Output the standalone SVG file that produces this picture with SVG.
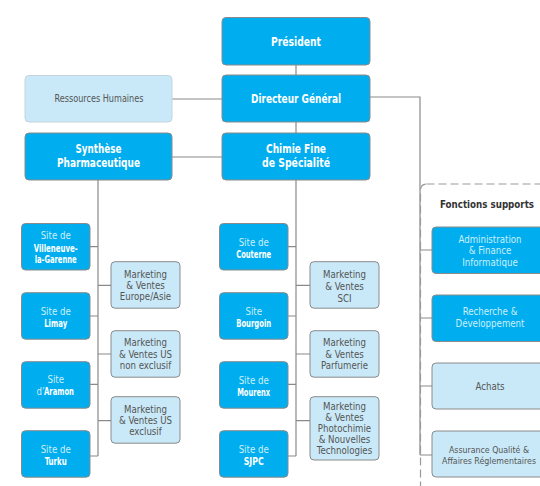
<svg xmlns="http://www.w3.org/2000/svg" width="540" height="486" viewBox="0 0 540 486">
<style>
text{font-family:"Liberation Sans Narrow","DejaVu Sans Condensed","Liberation Sans",sans-serif;text-anchor:middle}
.b{fill:#00aeef;stroke:#8a8a8a;stroke-width:1}
.l{fill:#c9e9f8;stroke:#8a8a8a;stroke-width:1}
.rh{fill:#c9e9f8;stroke:#c4d4dc;stroke-width:1}
.h{font-size:12.5px;font-weight:bold;fill:#ffffff}
.g{font-size:9.6px;fill:#555555}
.s{font-size:9.6px;fill:#cdeefb}
.sb{font-size:10px;font-weight:bold;fill:#ffffff}
.c{fill:none;stroke:#8a8a8a;stroke-width:1.2}
.ft{font-size:10px;font-weight:bold;fill:#333333}
</style>
<rect width="540" height="486" fill="#ffffff"/>
<g id="connectors">
<path class="c" d="M296 65V75M296 122V133M172 99H222M172 157H222M370 97H420V455M420 250H432M420 318H432M420 386H432M420 455H432"/>
<path class="c" d="M98 180V456M90 246.7H98M90 316H98M90 384.3H98M90 456H98M98 285.3H111M98 354H111M98 420.7H111"/>
<path class="c" d="M296 180V456M288 246.7H296M288 316H296M288 384.3H296M288 456H296M296 285.3H310M296 354H310M296 420.7H310"/>
</g>
<g id="fonctions-supports">
<rect x="420.5" y="184" width="140" height="320" rx="6" fill="none" stroke="#999999" stroke-width="1.2" stroke-dasharray="8 4"/>
<text class="ft" x="487" y="208" textLength="94" lengthAdjust="spacingAndGlyphs">Fonctions supports</text>
</g>
<g id="president"><rect class="b" x="222" y="17.5" width="148" height="47.5" rx="4"/><text class="h" x="296" y="45.5" textLength="50" lengthAdjust="spacingAndGlyphs">Président</text></g>
<g id="directeur"><rect class="b" x="222" y="75" width="148" height="47" rx="4"/><text class="h" x="296" y="103" textLength="90" lengthAdjust="spacingAndGlyphs">Directeur Général</text></g>
<g id="rh"><rect class="rh" x="25" y="75.5" width="147" height="46.5" rx="4"/><text class="g" x="99" y="102" textLength="89" lengthAdjust="spacingAndGlyphs">Ressources Humaines</text></g>
<g id="synthese"><rect class="b" x="25" y="133" width="147" height="47" rx="4"/><text class="h" x="98.5" y="152.5" textLength="46" lengthAdjust="spacingAndGlyphs">Synthèse</text><text class="h" x="98.5" y="167" textLength="83" lengthAdjust="spacingAndGlyphs">Pharmaceutique</text></g>
<g id="chimie"><rect class="b" x="222" y="133" width="148" height="47" rx="4"/><text class="h" x="296" y="152.5" textLength="60" lengthAdjust="spacingAndGlyphs">Chimie Fine</text><text class="h" x="296" y="167" textLength="68" lengthAdjust="spacingAndGlyphs">de Spécialité</text></g>

<g id="villeneuve"><rect class="b" x="21.5" y="223.5" width="68.5" height="46.5" rx="4"/><text class="s" x="55.7" y="239">Site de</text><text class="sb" x="55.7" y="251.5" textLength="44" lengthAdjust="spacingAndGlyphs">Villeneuve-</text><text class="sb" x="55.7" y="263" textLength="42" lengthAdjust="spacingAndGlyphs">la-Garenne</text></g>
<g id="limay"><rect class="b" x="21.5" y="292.7" width="68.5" height="46.5" rx="4"/><text class="s" x="55.7" y="315">Site de</text><text class="sb" x="55.7" y="327" textLength="23" lengthAdjust="spacingAndGlyphs">Limay</text></g>
<g id="aramon"><rect class="b" x="21.5" y="361.7" width="68.5" height="46.5" rx="4"/><text class="s" x="55.7" y="383">Site</text><text class="s" x="36.5" y="395" style="text-anchor:start">d’</text><text class="sb" x="44" y="395" style="text-anchor:start" textLength="30" lengthAdjust="spacingAndGlyphs">Aramon</text></g>
<g id="turku"><rect class="b" x="21.5" y="430.7" width="68.5" height="46.5" rx="4"/><text class="s" x="55.7" y="453">Site de</text><text class="sb" x="55.7" y="465" textLength="22" lengthAdjust="spacingAndGlyphs">Turku</text></g>

<g id="mkt-europe"><rect class="l" x="111" y="261.7" width="69" height="46.5" rx="4"/><text class="g" x="145.5" y="277.5">Marketing</text><text class="g" x="145.5" y="289">&amp; Ventes</text><text class="g" x="145.5" y="300">Europe/Asie</text></g>
<g id="mkt-us-ne"><rect class="l" x="111" y="330.7" width="69" height="46.5" rx="4"/><text class="g" x="145.5" y="346">Marketing</text><text class="g" x="145.5" y="357.5">&amp; Ventes US</text><text class="g" x="145.5" y="369">non exclusif</text></g>
<g id="mkt-us-e"><rect class="l" x="111" y="396.7" width="69" height="46.5" rx="4"/><text class="g" x="145.5" y="412.5">Marketing</text><text class="g" x="145.5" y="424">&amp; Ventes US</text><text class="g" x="145.5" y="435">exclusif</text></g>

<g id="couterne"><rect class="b" x="219.5" y="223.5" width="68.5" height="46.5" rx="4"/><text class="s" x="253.7" y="246">Site de</text><text class="sb" x="253.7" y="257.5" textLength="35" lengthAdjust="spacingAndGlyphs">Couterne</text></g>
<g id="bourgoin"><rect class="b" x="219.5" y="292.7" width="68.5" height="46.5" rx="4"/><text class="s" x="253.7" y="315">Site</text><text class="sb" x="253.7" y="326.5" textLength="35" lengthAdjust="spacingAndGlyphs">Bourgoin</text></g>
<g id="mourenx"><rect class="b" x="219.5" y="361.7" width="68.5" height="46.5" rx="4"/><text class="s" x="253.7" y="384">Site de</text><text class="sb" x="253.7" y="395.5" textLength="33" lengthAdjust="spacingAndGlyphs">Mourenx</text></g>
<g id="sjpc"><rect class="b" x="219.5" y="430.7" width="68.5" height="46.5" rx="4"/><text class="s" x="253.7" y="453">Site de</text><text class="sb" x="253.7" y="464.5" textLength="20" lengthAdjust="spacingAndGlyphs">SJPC</text></g>

<g id="mkt-sci"><rect class="l" x="310" y="261.7" width="69" height="46.5" rx="4"/><text class="g" x="344.5" y="278">Marketing</text><text class="g" x="344.5" y="290">&amp; Ventes</text><text class="g" x="344.5" y="301.5">SCI</text></g>
<g id="mkt-parfum"><rect class="l" x="310" y="330.7" width="69" height="46.5" rx="4"/><text class="g" x="344.5" y="346">Marketing</text><text class="g" x="344.5" y="357.5">&amp; Ventes</text><text class="g" x="344.5" y="369">Parfumerie</text></g>
<g id="mkt-photo"><rect class="l" x="310" y="396.7" width="69" height="63.3" rx="4"/><text class="g" x="344.5" y="410">Marketing</text><text class="g" x="344.5" y="421">&amp; Ventes</text><text class="g" x="344.5" y="432">Photochimie</text><text class="g" x="344.5" y="443">&amp; Nouvelles</text><text class="g" x="344.5" y="454">Technologies</text></g>

<g id="admin"><rect class="b" x="432" y="227" width="120" height="46.5" rx="4"/><text class="s" x="490" y="243">Administration</text><text class="s" x="490" y="254">&amp; Finance</text><text class="s" x="490" y="265.5">Informatique</text></g>
<g id="recherche"><rect class="b" x="432" y="295" width="120" height="46.5" rx="4"/><text class="s" x="490" y="315">Recherche &amp;</text><text class="s" x="490" y="326.5">Développement</text></g>
<g id="achats"><rect class="l" x="432" y="363" width="120" height="46" rx="4"/><text class="g" x="490" y="389.5">Achats</text></g>
<g id="assurance"><rect class="l" x="432" y="431" width="120" height="46" rx="4"/><text class="g" x="489" y="452.5" textLength="80" lengthAdjust="spacingAndGlyphs" style="font-size:9px">Assurance Qualité &amp;</text><text class="g" x="489" y="464" textLength="94" lengthAdjust="spacingAndGlyphs" style="font-size:9px">Affaires Réglementaires</text></g>
</svg>
